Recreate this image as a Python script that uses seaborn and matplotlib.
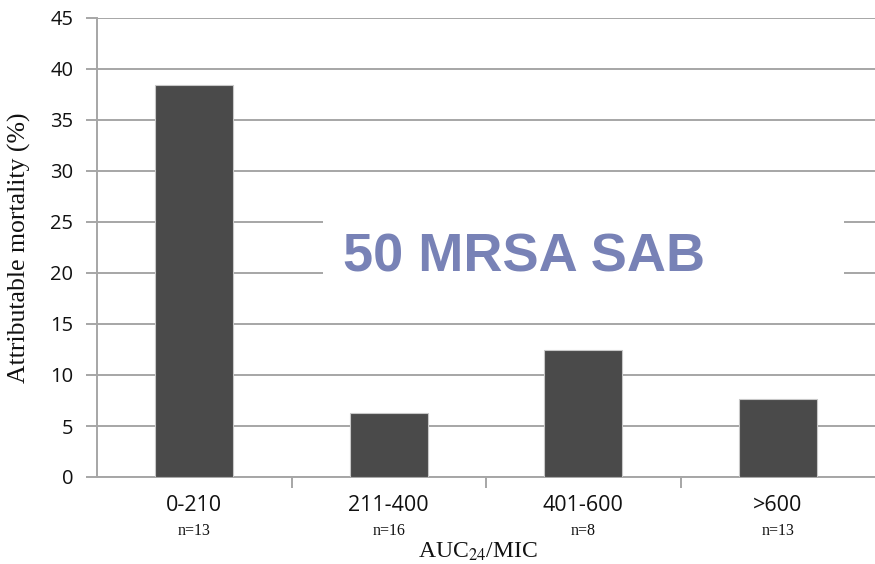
import matplotlib
matplotlib.use("Agg")
import matplotlib.pyplot as plt
from matplotlib.patches import Rectangle
from matplotlib.ticker import FixedLocator
import seaborn as sns
import pandas as pd

# Attributable mortality by AUC24/MIC band
categories = ["0-210", "211-400", "401-600", ">600"]
mortality = [38.46, 6.25, 12.5, 7.69]
counts = ["n=13", "n=16", "n=8", "n=13"]
y_ticks = [0, 5, 10, 15, 20, 25, 30, 35, 40, 45]

df = pd.DataFrame({"band": categories, "mortality": mortality})

sns.set_theme(style="white")
plt.rcParams["mathtext.fontset"] = "stix"

W, H = 875, 564
fig = plt.figure(figsize=(W / 100, H / 100), dpi=100)
ax_h = 477 - 18
ax = fig.add_axes([97 / W, 1 - 477 / H, (875 - 97) / W, ax_h / H])

grid_col = "#a6a6a6"
ink = "#111111"
serif = ["Liberation Serif", "DejaVu Serif"]
sans = ["Open Sans", "DejaVu Sans"]

ax.set_axisbelow(True)
ax.yaxis.grid(True, color=grid_col, linewidth=1.4)

sns.barplot(data=df, x="band", y="mortality", order=categories, ax=ax,
            color="#4a4a4a", width=0.4, edgecolor="#c8c8c8", linewidth=0.8,
            saturation=1, zorder=3)

ax.set_xlim(-0.5, 3.5)
ax.set_ylim(0, 45)
ax.yaxis.set_major_locator(FixedLocator(y_ticks))

for side in ("top", "right"):
    ax.spines[side].set_visible(False)
for side in ("left", "bottom"):
    ax.spines[side].set_color(grid_col)
    ax.spines[side].set_linewidth(1.4)

ax.tick_params(axis="y", left=True, length=8, width=1.4, color=grid_col,
               labelsize=14.5, pad=9, labelcolor=ink)
ax.tick_params(axis="x", bottom=False, labelsize=15.5, pad=7, labelcolor=ink)
for lab in ax.get_yticklabels() + ax.get_xticklabels():
    lab.set_fontfamily(sans)

# separators between categories
ax.xaxis.set_minor_locator(FixedLocator([0.5, 1.5, 2.5]))
ax.tick_params(axis="x", which="minor", bottom=True, length=8, width=1.4,
               color=grid_col, direction="out")

ax.set_xlabel("")
ax.set_ylabel("Attributable mortality (%)", fontsize=18.5, family=serif, color=ink)
ax.yaxis.set_label_coords(-66 / (875 - 97), 0.5)

# sample sizes below each band
for i, c in enumerate(counts):
    ax.text(i, -54 / ax_h, c, transform=ax.get_xaxis_transform(), ha="center",
            va="center", fontsize=11.5, family=serif, color=ink)

fig.text(478 / W, 1 - 541 / H, r"AUC$_{\mathrm{24}}$/MIC", ha="center", va="top",
         fontsize=17, family=serif, color=ink)

# cohort annotation on a white panel over the gridlines
fig.add_artist(Rectangle((323 / W, 1 - 305 / H), (844 - 323) / W, 110 / H,
                         transform=fig.transFigure, facecolor="white",
                         edgecolor="none", zorder=4))
fig.text(524 / W, 1 - 258 / H, "50 MRSA SAB", ha="center", va="center",
         fontsize=39, fontweight="bold", family=["Liberation Sans", "DejaVu Sans"],
         color="#7882b6", zorder=5)

fig.savefig("out.png", dpi=100, facecolor="white")
